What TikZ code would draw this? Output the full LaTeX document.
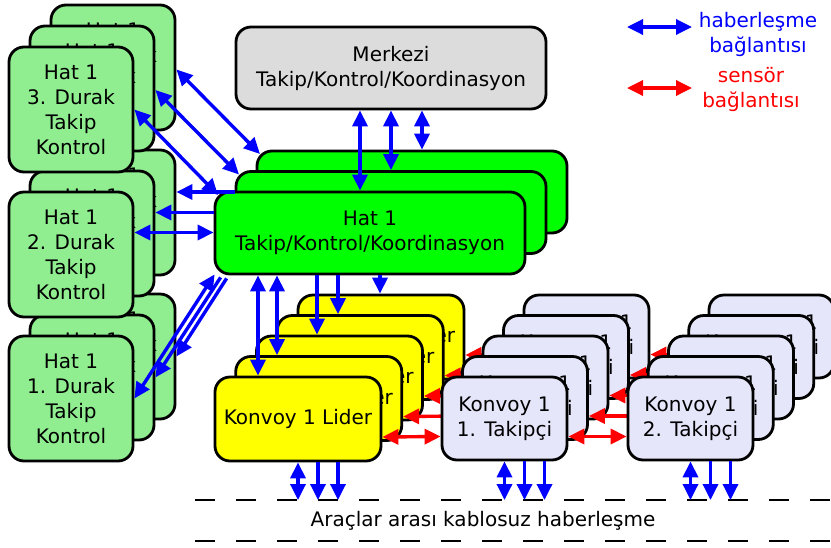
\documentclass[tikz,border=0pt]{standalone}
\usepackage{fontspec}
\setmainfont{DejaVu Sans}
\usetikzlibrary{arrows.meta}
\definecolor{lgreen}{HTML}{90EE90}
\definecolor{hgreen}{HTML}{00FF00}
\definecolor{mgray}{HTML}{DCDCDC}
\definecolor{lav}{HTML}{E6E6FA}
\definecolor{yel}{HTML}{FFFF00}
\begin{document}
\begin{tikzpicture}[x=1pt,y=-1pt,
 txt/.style={font=\fontsize{20pt}{25pt}\selectfont, align=center, inner sep=0pt},
 box/.style={txt, draw=black, line width=2.8pt, rounded corners=15pt},
 durak/.style={box, fill=lgreen, minimum width=124pt, minimum height=125pt},
 hat/.style={box, fill=hgreen, minimum width=310pt, minimum height=82pt},
 merk/.style={box, fill=mgray, minimum width=310pt, minimum height=82pt},
 lider/.style={box, fill=yel, minimum width=166pt, minimum height=84pt},
 takip/.style={box, fill=lav, minimum width=125pt, minimum height=83pt},
 tip/.tip={Triangle[length=16pt,width=15pt]},
 com/.style={draw=blue, line width=3.4pt, -tip},
 comb/.style={draw=blue, line width=3.4pt, tip-tip},
 sen/.style={draw=red, line width=3.4pt, -tip},
 senb/.style={draw=red, line width=3.4pt, tip-tip},
 dashline/.style={draw=black, line width=2pt, dash pattern=on 20pt off 21pt}
]
\useasboundingbox (0,0) rectangle (831,547);

% left stacks (durak), bottom stack first
\node[durak] (d1c) at (113,356.5) {Hat 1\\1. Durak\\Takip\\Kontrol};
\node[durak] (d1b) at (92,377.5) {Hat 1\\1. Durak\\Takip\\Kontrol};
\node[durak] (d1a) at (71,398.5) {Hat 1\\1. Durak\\Takip\\Kontrol};
\node[durak] (d2c) at (113,212.5) {Hat 1\\2. Durak\\Takip\\Kontrol};
\node[durak] (d2b) at (92,233.5) {Hat 1\\2. Durak\\Takip\\Kontrol};
\node[durak] (d2a) at (71,254.5) {Hat 1\\2. Durak\\Takip\\Kontrol};
\node[durak] (d3c) at (113,67.5) {Hat 1\\3. Durak\\Takip\\Kontrol};
\node[durak] (d3b) at (92,88.5) {Hat 1\\3. Durak\\Takip\\Kontrol};
\node[durak] (d3a) at (71,109.5) {Hat 1\\3. Durak\\Takip\\Kontrol};

% central
\node[merk] (mz) at (391,68) {Merkezi\\Takip/Kontrol/Koordinasyon};
\node[hat] (h3) at (412,192) {};
\node[hat] (h2) at (391,212.5) {};
\node[hat] (h1) at (370,233) {Hat 1\\Takip/Kontrol/Koordinasyon};

% layer 5
\node[lider] (y5) at (381,337) {Konvoy 1 Lider};
\node[takip] (a5) at (586.5,336.5) {Konvoy 1\\1. Takipçi};
\node[takip] (b5) at (771.5,336.5) {Konvoy 1\\2. Takipçi};
\draw[sen] ([yshift=-18pt]a5.west) -- ([yshift=-18pt]y5.east);
\draw[sen] ([yshift=-18pt]b5.west) -- ([yshift=-18pt]a5.east);
% layer 4
\node[lider] (y4) at (360.25,357.5) {Konvoy 1 Lider};
\node[takip] (a4) at (566,357) {Konvoy 1\\1. Takipçi};
\node[takip] (b4) at (751.25,357) {Konvoy 1\\2. Takipçi};
\draw[sen] ([yshift=-18pt]a4.west) -- ([yshift=-18pt]y4.east);
\draw[sen] ([yshift=-18pt]b4.west) -- ([yshift=-18pt]a4.east);
% layer 3
\node[lider] (y3) at (339.5,378) {Konvoy 1 Lider};
\node[takip] (a3) at (545.5,377.5) {Konvoy 1\\1. Takipçi};
\node[takip] (b3) at (731,377.5) {Konvoy 1\\2. Takipçi};
\draw[sen] ([yshift=-18pt]a3.west) -- ([yshift=-18pt]y3.east);
\draw[sen] ([yshift=-18pt]b3.west) -- ([yshift=-18pt]a3.east);
% layer 2
\node[lider] (y2) at (318.75,398.5) {Konvoy 1 Lider};
\node[takip] (a2) at (525,398) {Konvoy 1\\1. Takipçi};
\node[takip] (b2) at (710.75,398) {Konvoy 1\\2. Takipçi};
\draw[sen] ([yshift=-18pt]a2.west) -- ([yshift=-18pt]y2.east);
\draw[sen] ([yshift=-18pt]b2.west) -- ([yshift=-18pt]a2.east);
% layer 1
\node[lider] (y1) at (298,419) {Konvoy 1 Lider};
\node[takip] (a1) at (504.5,418.5) {Konvoy 1\\1. Takipçi};
\node[takip] (b1) at (690.5,418.5) {Konvoy 1\\2. Takipçi};
\draw[senb] ([yshift=-18pt]y1.east) -- ([yshift=-18pt]a1.west);
\draw[senb] ([yshift=-18pt]a1.east) -- ([yshift=-18pt]b1.west);

% Merkezi <-> Hat 1
\coordinate (m1) at ([xshift=-31pt]mz.south);
\coordinate (m3) at ([xshift=31pt]mz.south);
\draw[comb] (m1) -- (m1 |- h1.north);
\draw[comb] (mz.south) -- (mz.south |- h2.north);
\draw[comb] (m3) -- (m3 |- h3.north);

% Hat 1 -> Konvoy leaders
\coordinate (g1) at ([xshift=-40pt]y1.north);
\coordinate (g2) at ([xshift=-41.75pt]y2.north);
\coordinate (g3) at ([xshift=-22.5pt]y3.north);
\coordinate (g4) at ([xshift=-22.25pt]y4.north);
\coordinate (g5) at ([xshift=-1pt]y5.north);
\draw[comb] (g1 |- h1.south) -- (g1);
\draw[comb] (g2 |- h1.south) -- (g2);
\draw[com] (g3 |- h1.south) -- (g3);
\draw[com] (g4 |- h1.south) -- (g4);
\draw[com] (g5 |- h1.south) -- (g5);

% stack 3 <-> Hat 1
\draw[comb] ([yshift=-2pt]d3c.east) -- ([xshift=4.4pt,yshift=-4.4pt]h3.north west);
\draw[comb] ([yshift=-1.5pt]d3b.east) -- ([xshift=4.4pt,yshift=-4.4pt]h2.north west);
\draw[comb] (d3a.east) -- ([xshift=4.4pt,yshift=-4.4pt]h1.north west);

% stack 2 <-> Hat 1
\coordinate (p1) at ([yshift=20.5pt]d2c.east);
\coordinate (p2) at ([yshift=21pt]d2b.east);
\coordinate (p3) at ([yshift=22pt]d2a.east);
\draw[com] (p1 -| h2.west) -- (p1);
\draw[com] (p2 -| h1.west) -- (p2);
\draw[comb] (p3) -- (p3 -| h1.west);

% stack 1 <-> Hat 1
\draw[comb] ([xshift=1pt,yshift=1pt]h1.south west) -- (d1a.east);
\draw[com] ([xshift=7pt,yshift=-2pt]h1.south west) -- (d1b.east);
\draw[com] ([xshift=13pt,yshift=-3pt]h1.south west) -- (d1c.east);

% wireless bus
\coordinate (bus) at (0,500);
\coordinate (busL) at (195,500);
\coordinate (busR) at (831,500);
\coordinate (bus2L) at (195,541);
\coordinate (bus2R) at (831,541);
\draw[dashline] (busL) -- (busR);
\draw[dashline] (bus2L) -- (bus2R);
\node[txt] (bustext) at (483,521) {Araçlar arası kablosuz haberleşme};

\draw[comb] (y1.south) -- (y1.south |- bus);
\draw[com] ([xshift=20pt]y1.south) -- ([xshift=20pt]y1.south |- bus);
\draw[com] ([xshift=40pt]y1.south) -- ([xshift=40pt]y1.south |- bus);
\draw[comb] (a1.south) -- (a1.south |- bus);
\draw[com] ([xshift=20pt]a1.south) -- ([xshift=20pt]a1.south |- bus);
\draw[com] ([xshift=40pt]a1.south) -- ([xshift=40pt]a1.south |- bus);
\draw[comb] (b1.south) -- (b1.south |- bus);
\draw[com] ([xshift=20pt]b1.south) -- ([xshift=20pt]b1.south |- bus);
\draw[com] ([xshift=40pt]b1.south) -- ([xshift=40pt]b1.south |- bus);

% legend
\coordinate (lb1) at (627,27);
\coordinate (lb2) at (692,27);
\coordinate (lr1) at (627,88);
\coordinate (lr2) at (692,88);
\draw[comb] (lb1) -- (lb2);
\draw[senb] (lr1) -- (lr2);
\node[txt, text=blue] (lbt) at (758,34) {haberleşme\\bağlantısı};
\node[txt, text=red] (lrt) at (751,89) {sensör\\bağlantısı};
\end{tikzpicture}
\end{document}
